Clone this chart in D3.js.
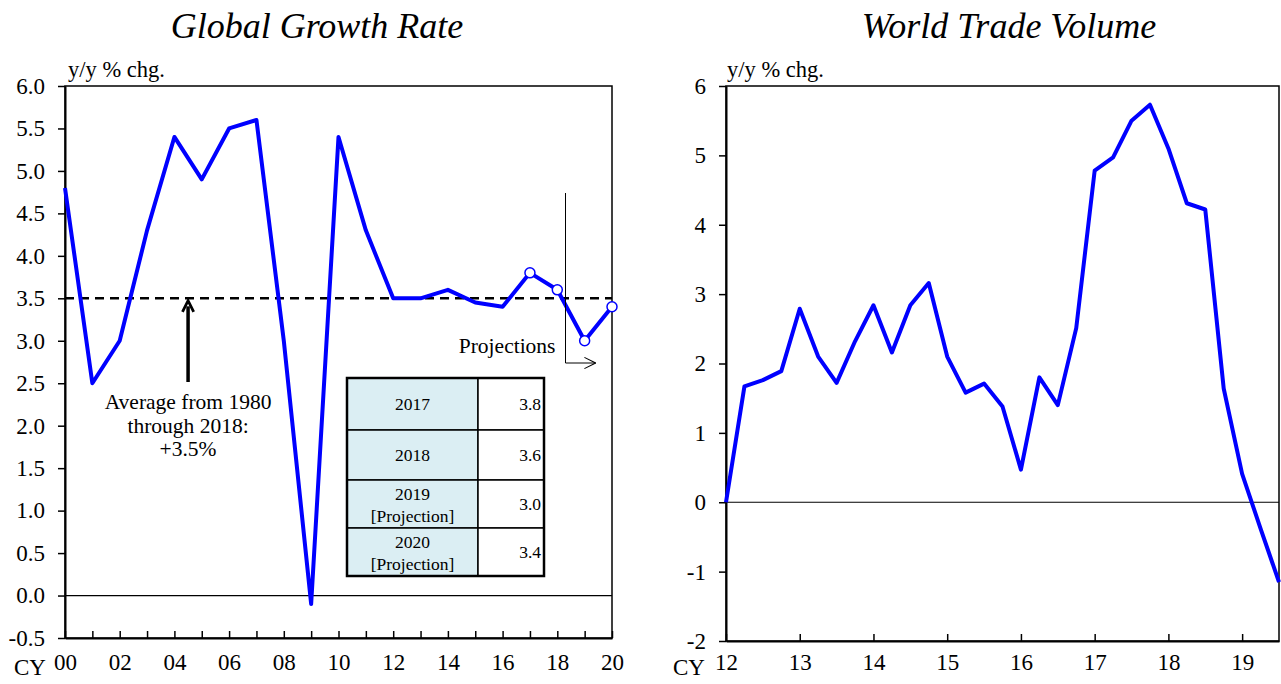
<!DOCTYPE html>
<html>
<head>
  <meta charset="utf-8">
  <title>growth-trade</title>
  <style>
    * { padding: 0; margin: 0; }
    body { background: #fff; }
    svg { font-family: "Liberation Serif", "Times New Roman", serif; }
    .axis text { fill: #000; }
    .axis line { stroke: #000; stroke-width: 1.5; }
    .axis path { stroke: #000; stroke-width: 2; }
  </style>
</head>
<body>
  <svg id="svg"></svg>
  <script src="https://cdnjs.cloudflare.com/ajax/libs/d3/7.8.5/d3.min.js"></script>
  <script>
    // Global growth (annual, y/y %)
    const growthYears = d3.range(2000, 2021);
    const growthValues = [4.8, 2.5, 3.0, 4.3, 5.4, 4.9, 5.5, 5.6, 3.0, -0.1, 5.4, 4.3, 3.5, 3.5, 3.6, 3.45, 3.4, 3.8, 3.6, 3.0, 3.4];
    const growthTicks = d3.range(-0.5, 6.01, 0.5);
    const averageValue = 3.5;
    const markedYears = [2017, 2018, 2019, 2020];

    const tableYears = ['2017', '2018', '2019', '2020'];
    const tableNotes = ['', '', '[Projection]', '[Projection]'];
    const tableValues = ['3.8', '3.6', '3.0', '3.4'];

    // World trade volume (quarterly, y/y %)
    const tradeQuarters = d3.range(0, 31).map(i => 2012 + i / 4);
    const tradeValues = [0.0, 1.67, 1.76, 1.89, 2.79, 2.10, 1.72, 2.32, 2.84, 2.16, 2.84, 3.16,
      2.10, 1.58, 1.71, 1.38, 0.47, 1.80, 1.40, 2.51, 4.78, 4.97, 5.50, 5.73, 5.10, 4.31,
      4.22, 1.64, 0.41, -0.38, -1.15];
    const tradeTicks = d3.range(-2, 7, 1);
    const tradeYearTicks = d3.range(2012, 2020);

    const W = 1281, H = 684;
    const FONT = '"Liberation Serif", "Times New Roman", serif';
    const TICK = 23;
    const svg = d3.select('#svg').attr('width', W).attr('height', H);
    const hyphen = f => d => f(d).replace('\u2212', '-');

    // ---------- left chart ----------
    const L = { left: 65, right: 612, top: 86, bottom: 638 };
    const x1 = d3.scaleLinear().domain([2000, 2020]).range([L.left, L.right]);
    const y1 = d3.scaleLinear().domain([-0.5, 6.0]).range([L.bottom, L.top]);

    svg.append('text').attr('x', 317).attr('y', 38).attr('text-anchor', 'middle')
      .style('font-size', '36px').style('font-style', 'italic').text('Global Growth Rate');
    svg.append('text').attr('x', 68).attr('y', 77).style('font-size', '22.5px').text('y/y % chg.');

    svg.append('rect').attr('x', L.left).attr('y', L.top)
      .attr('width', L.right - L.left).attr('height', L.bottom - L.top)
      .attr('fill', 'none').attr('stroke', '#000').attr('stroke-width', 1.5);

    svg.append('line').attr('x1', L.left).attr('x2', L.right)
      .attr('y1', y1(0)).attr('y2', y1(0)).attr('stroke', '#000').attr('stroke-width', 1.2);

    svg.append('g').attr('class', 'axis')
      .attr('transform', `translate(${L.left},0)`)
      .call(d3.axisLeft(y1).tickValues(growthTicks).tickFormat(hyphen(d3.format('.1f')))
        .tickSizeInner(7).tickSizeOuter(0).tickPadding(13))
      .attr('font-family', FONT).attr('font-size', TICK);

    svg.append('g').attr('class', 'axis')
      .attr('transform', `translate(0,${L.bottom})`)
      .call(d3.axisBottom(x1).tickValues(growthYears)
        .tickFormat(d => d % 2 === 0 ? String(d).slice(2) : '')
        .tickSizeInner(-7).tickSizeOuter(0).tickPadding(16))
      .attr('font-family', FONT).attr('font-size', TICK);

    svg.append('text').attr('x', 14).attr('y', 675).style('font-size', TICK + 'px').text('CY');

    // average dashed line
    svg.append('line').attr('x1', L.left).attr('x2', L.right)
      .attr('y1', y1(averageValue)).attr('y2', y1(averageValue))
      .attr('stroke', '#000').attr('stroke-width', 2.5).attr('stroke-dasharray', '9,6');

    // growth line
    const growthData = growthYears.map((d, i) => [d, growthValues[i]]);
    svg.append('path').datum(growthData)
      .attr('fill', 'none').attr('stroke', '#0000ff').attr('stroke-width', 4)
      .attr('stroke-linejoin', 'round')
      .attr('d', d3.line().x(d => x1(d[0])).y(d => y1(d[1])));

    svg.selectAll('.mark').data(growthData.filter(d => markedYears.includes(d[0])))
      .enter().append('circle').attr('class', 'mark')
      .attr('cx', d => x1(d[0])).attr('cy', d => y1(d[1])).attr('r', 5)
      .attr('fill', '#fff').attr('stroke', '#0000ff').attr('stroke-width', 1.5);

    // arrow marker defs
    const defs = svg.append('defs');
    defs.append('marker').attr('id', 'solidHead').attr('viewBox', '0 0 10 10')
      .attr('refX', 5).attr('refY', 5).attr('markerWidth', 4).attr('markerHeight', 4)
      .attr('orient', 'auto')
      .append('path').attr('d', 'M1,1 L9,5 L1,9').attr('fill', 'none')
      .attr('stroke', '#000').attr('stroke-width', 2);
    defs.append('marker').attr('id', 'openHead').attr('viewBox', '0 0 20 20')
      .attr('refX', 19).attr('refY', 10).attr('markerWidth', 16).attr('markerHeight', 16)
      .attr('markerUnits', 'userSpaceOnUse').attr('orient', 'auto')
      .append('path').attr('d', 'M5,3 L19,10 L5,17').attr('fill', 'none')
      .attr('stroke', '#000').attr('stroke-width', 1.3);

    // average arrow + text
    const ax = x1(2004.5);
    svg.append('line').attr('x1', ax).attr('x2', ax)
      .attr('y1', 382).attr('y2', y1(averageValue) + 8)
      .attr('stroke', '#000').attr('stroke-width', 3.5).attr('marker-end', 'url(#solidHead)');
    const avgText = ['Average from 1980', 'through 2018:', '+3.5%'];
    svg.selectAll('.avg').data(avgText).enter().append('text').attr('class', 'avg')
      .attr('x', ax).attr('y', (d, i) => 409 + i * 23.5).attr('text-anchor', 'middle')
      .style('font-size', '21.5px').text(d => d);

    // projections
    const px = x1(2018.3);
    svg.append('path')
      .attr('d', `M${px},193 L${px},363 L${x1(2019.4)},363`)
      .attr('fill', 'none').attr('stroke', '#000').attr('stroke-width', 1)
      .attr('marker-end', 'url(#openHead)');
    svg.append('text').attr('x', px - 10).attr('y', 353).attr('text-anchor', 'end')
      .style('font-size', '21.5px').text('Projections');

    // table
    const T = { x: 347, y: 378, w1: 131, w2: 66, rows: [52, 50, 48, 48] };
    const rowY = [T.y];
    T.rows.forEach((h, i) => rowY.push(rowY[i] + h));
    const tbl = svg.append('g').style('font-size', '17.5px');
    tableYears.forEach((yr, i) => {
      tbl.append('rect').attr('x', T.x).attr('y', rowY[i]).attr('width', T.w1).attr('height', T.rows[i])
        .attr('fill', '#dbeef3').attr('stroke', '#000').attr('stroke-width', 1.5);
      tbl.append('rect').attr('x', T.x + T.w1).attr('y', rowY[i]).attr('width', T.w2).attr('height', T.rows[i])
        .attr('fill', '#fff').attr('stroke', '#000').attr('stroke-width', 1.5);
      const cy = rowY[i] + T.rows[i] / 2;
      if (tableNotes[i]) {
        tbl.append('text').attr('x', T.x + T.w1 / 2).attr('y', cy - 4).attr('text-anchor', 'middle').text(yr);
        tbl.append('text').attr('x', T.x + T.w1 / 2).attr('y', cy + 18).attr('text-anchor', 'middle').text(tableNotes[i]);
      } else {
        tbl.append('text').attr('x', T.x + T.w1 / 2).attr('y', cy + 6).attr('text-anchor', 'middle').text(yr);
      }
      tbl.append('text').attr('x', T.x + T.w1 + T.w2 - 3).attr('y', cy + 6).attr('text-anchor', 'end')
        .text(tableValues[i]);
    });
    tbl.append('rect').attr('x', T.x).attr('y', T.y).attr('width', T.w1 + T.w2)
      .attr('height', rowY[4] - T.y).attr('fill', 'none').attr('stroke', '#000').attr('stroke-width', 2.5);

    // ---------- right chart ----------
    const R = { left: 726, right: 1279, top: 86, bottom: 641 };
    const x2 = d3.scaleLinear().domain([2012, 2019.5]).range([R.left, R.right]);
    const y2 = d3.scaleLinear().domain([-2, 6]).range([R.bottom, R.top]);

    svg.append('text').attr('x', 1009).attr('y', 38).attr('text-anchor', 'middle')
      .style('font-size', '36px').style('font-style', 'italic').text('World Trade Volume');
    svg.append('text').attr('x', 727).attr('y', 77).style('font-size', '22.5px').text('y/y % chg.');

    svg.append('rect').attr('x', R.left).attr('y', R.top)
      .attr('width', R.right - R.left).attr('height', R.bottom - R.top)
      .attr('fill', 'none').attr('stroke', '#000').attr('stroke-width', 1.5);

    svg.append('line').attr('x1', R.left).attr('x2', R.right)
      .attr('y1', y2(0)).attr('y2', y2(0)).attr('stroke', '#000').attr('stroke-width', 1.2);

    svg.append('g').attr('class', 'axis')
      .attr('transform', `translate(${R.left},0)`)
      .call(d3.axisLeft(y2).tickValues(tradeTicks).tickFormat(hyphen(d3.format('d')))
        .tickSizeInner(7).tickSizeOuter(0).tickPadding(13))
      .attr('font-family', FONT).attr('font-size', TICK);

    svg.append('g').attr('class', 'axis')
      .attr('transform', `translate(0,${R.bottom})`)
      .call(d3.axisBottom(x2).tickValues(tradeYearTicks)
        .tickFormat(d => String(d).slice(2))
        .tickSizeInner(-7).tickSizeOuter(0).tickPadding(13))
      .attr('font-family', FONT).attr('font-size', TICK);

    svg.append('text').attr('x', 673).attr('y', 675).style('font-size', TICK + 'px').text('CY');

    const tradeData = tradeQuarters.map((d, i) => [d, tradeValues[i]]);
    svg.append('path').datum(tradeData)
      .attr('fill', 'none').attr('stroke', '#0000ff').attr('stroke-width', 4)
      .attr('stroke-linejoin', 'round')
      .attr('d', d3.line().x(d => x2(d[0])).y(d => y2(d[1])));
  </script>
</body>
</html>
